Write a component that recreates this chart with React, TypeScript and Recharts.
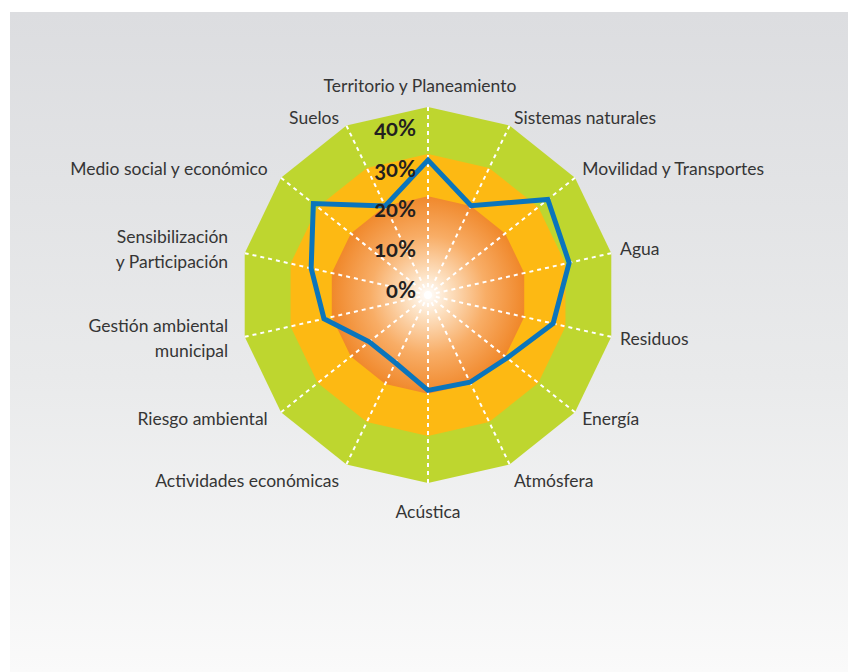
import React from 'react';
import { RadarChart, Radar, PolarGrid, PolarAngleAxis, PolarRadiusAxis } from 'recharts';

const CATEGORIES = [
  'Territorio y Planeamiento',
  'Sistemas naturales',
  'Movilidad y Transportes',
  'Agua',
  'Residuos',
  'Energía',
  'Atmósfera',
  'Acústica',
  'Actividades económicas',
  'Riesgo ambiental',
  'Gestión ambiental\nmunicipal',
  'Sensibilización\ny Participación',
  'Medio social y económico',
  'Suelos',
];

// share per area, in %
const VALUES = [28.7, 21.1, 32.6, 30.8, 27.3, 21.5, 20.6, 20.3, 16.0, 16.0, 22.7, 25.5, 31.2, 21.0];

// background bands
const BAND_OUTER = 40;
const BAND_MID = 30;
const BAND_INNER = 21;

const TICKS = [0, 10, 20, 30, 40];

const data = CATEGORIES.map((subject, i) => ({
  subject,
  value: VALUES[i],
  outer: BAND_OUTER,
  mid: BAND_MID,
  inner: BAND_INNER,
}));

const FONT = 'Lato, "Open Sans", sans-serif';
const CX = 418;
const CY = 283;

const AngleTick = (props: any) => {
  const { x, y, payload, textAnchor } = props;
  const a = (payload.coordinate * Math.PI) / 180;
  const sin = Math.sin(a);
  const cos = Math.cos(a);
  const lines = String(payload.value).split('\n');
  const lh = 25;
  let tx = x;
  let ty = y - 2 - 4 * sin;
  if (Math.abs(cos) < 0.01) {
    ty = sin > 0 ? y - 14 : y + 20;
    if (sin > 0) tx = x - 8;
  } else {
    if (sin > 0.85) ty = y - 1;
    if (sin < -0.85) ty = y + 8;
    tx = cos < 0 ? x + 9 * cos : x + 1;
  }
  const top = ty - ((lines.length - 1) * lh) / 2;
  return (
    <text
      x={tx}
      y={top}
      textAnchor={textAnchor}
      dominantBaseline="central"
      fill="#353535"
      style={{ fontFamily: FONT, fontSize: 17.5 }}
    >
      {lines.map((l, i) => (
        <tspan key={i} x={tx} y={top + i * lh}>
          {l}
        </tspan>
      ))}
    </text>
  );
};

// the % labels sit a bit tighter than the grid itself
const RadiusTick = (props: any) => {
  const { x, y, payload } = props;
  const r = CY - y;
  const ty = CY - (6 + 0.857 * r);
  return (
    <text
      x={x - 12}
      y={ty}
      textAnchor="end"
      dominantBaseline="central"
      fill="#231f20"
      style={{ fontFamily: FONT, fontSize: 22, fontWeight: 700, fontVariantNumeric: 'oldstyle-nums' }}
    >
      {`${payload.value}%`}
    </text>
  );
};

export default function App() {
  return (
    <>
      <style>{'body{margin:0;overflow:hidden}'}</style>
      <div
        style={{
          position: 'absolute',
          left: 10,
          top: 12,
          width: 838,
          height: 660,
          background: 'linear-gradient(to bottom, #dcdde0 0%, #e9eaeb 55%, #fafafa 100%)',
        }}
      >
        <RadarChart
          width={838}
          height={660}
          data={data}
          cx={CX}
          cy={CY}
          outerRadius={188}
          startAngle={90}
          endAngle={-270}
          margin={{ top: 0, right: 0, bottom: 0, left: 0 }}
        >
          <defs>
            <radialGradient id="coreFill" cx="50%" cy="50%" r="50%">
              <stop offset="0%" stopColor="#ffffff" />
              <stop offset="20%" stopColor="#fde3c6" />
              <stop offset="60%" stopColor="#f8ad66" />
              <stop offset="100%" stopColor="#f0882b" />
            </radialGradient>
          </defs>
          <PolarAngleAxis dataKey="subject" tick={<AngleTick />} axisLine={false} tickLine={false} />
          <Radar dataKey="outer" fill="#bed62f" fillOpacity={1} stroke="none" dot={false} isAnimationActive={false} />
          <Radar dataKey="mid" fill="#fdb913" fillOpacity={1} stroke="none" dot={false} isAnimationActive={false} />
          <Radar dataKey="inner" fill="url(#coreFill)" fillOpacity={1} stroke="none" dot={false} isAnimationActive={false} />
          <PolarGrid
            gridType="polygon"
            polarRadius={[]}
            stroke="#ffffff"
            strokeWidth={2}
            strokeDasharray="4 4"
            zIndex={150}
          />
          <Radar
            dataKey="value"
            fill="none"
            fillOpacity={0}
            stroke="#0a75bc"
            strokeWidth={5}
            strokeLinejoin="miter"
            dot={false}
            isAnimationActive={false}
            zIndex={200}
          />
          <PolarRadiusAxis
            type="number"
            angle={90}
            domain={[0, 40]}
            ticks={TICKS}
            tick={<RadiusTick />}
            axisLine={false}
            tickLine={false}
            zIndex={900}
          />
        </RadarChart>
      </div>
    </>
  );
}
